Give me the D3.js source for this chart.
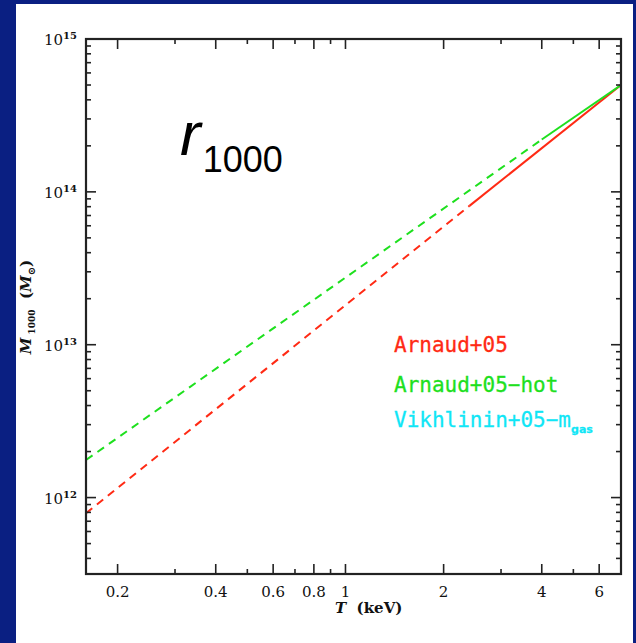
<!DOCTYPE html>
<html lang="en">
<head>
<meta charset="utf-8">
<title>M1000 - T</title>
<script src="https://d3js.org/d3.v7.min.js"></script>
<style>
  html, body { margin: 0; padding: 0; background: #0a1f82; }
  svg { display: block; }
</style>
</head>
<body>
<div id="chart"></div>
<script>
// series: [T (keV), M (Msun)] break points; first segment dashed, second solid
var arnaudT = [0.16, 2.4, 7];
var arnaudM = [7.9e11, 8.1e13, 5.0e14];
var hotT = [0.16, 4, 7];
var hotM = [1.76e12, 2.2e14, 5.0e14];

var xMajor = [0.2, 0.4, 0.6, 0.8, 1, 2, 4, 6];
var xMinor = [0.3, 0.5, 0.7, 0.9, 3, 5, 7];
var yMajor = [12, 13, 14, 15];   // exponents

var legendNames = ["Arnaud+05", "Arnaud+05\u2212hot", "Vikhlinin+05\u2212m"];
var legendColors = ["#ff2a14", "#1ee01e", "#10e6f6"];

var W = 636, H = 643;
var pL = 86, pR = 621, pT = 39, pB = 574;

var svg = d3.select("#chart").append("svg")
  .attr("width", W).attr("height", H);

// white panel
svg.append("rect").attr("x", 16).attr("y", 4)
  .attr("width", 617).attr("height", H - 4).attr("fill", "#fff");

var x = d3.scaleLog().domain([0.16, 7]).range([pL, pR]);
var y = d3.scaleLog().domain([Math.pow(10, 11.5), 1e15]).range([pB, pT]);

var line = d3.line()
  .x(function(d) { return x(d[0]); })
  .y(function(d) { return y(d[1]); });

svg.append("clipPath").attr("id", "clip")
  .append("rect").attr("x", pL).attr("y", pT)
  .attr("width", pR - pL).attr("height", pB - pT);

var series = [
  { t: arnaudT, m: arnaudM, color: legendColors[0] },
  { t: hotT, m: hotM, color: legendColors[1] }
];
var g = svg.append("g").attr("clip-path", "url(#clip)");
series.forEach(function(s) {
  var pts = s.t.map(function(t, i) { return [t, s.m[i]]; });
  g.append("path").attr("d", line(pts.slice(0, 2)))
    .attr("fill", "none").attr("stroke", s.color)
    .attr("stroke-width", 2).attr("stroke-dasharray", "8,6");
  g.append("path").attr("d", line(pts.slice(1)))
    .attr("fill", "none").attr("stroke", s.color)
    .attr("stroke-width", 2);
});

// ticks, inward on all sides
var tk = svg.append("g").attr("stroke", "#222").attr("stroke-width", 1.6);
function xTick(v, len) {
  tk.append("line").attr("x1", x(v)).attr("x2", x(v))
    .attr("y1", pB).attr("y2", pB - len);
  tk.append("line").attr("x1", x(v)).attr("x2", x(v))
    .attr("y1", pT).attr("y2", pT + len);
}
function yTick(v, len) {
  tk.append("line").attr("y1", y(v)).attr("y2", y(v))
    .attr("x1", pL).attr("x2", pL + len);
  tk.append("line").attr("y1", y(v)).attr("y2", y(v))
    .attr("x1", pR).attr("x2", pR - len);
}
xMajor.forEach(function(v) { xTick(v, 10); });
xMinor.forEach(function(v) { xTick(v, 5); });
yMajor.forEach(function(e) { yTick(Math.pow(10, e), 10); });
[11, 12, 13, 14].forEach(function(e) {
  d3.range(2, 10).forEach(function(k) {
    var v = k * Math.pow(10, e);
    if (v >= y.domain()[0] && v <= 1e15) yTick(v, 5);
  });
});

// frame
svg.append("rect").attr("x", pL).attr("y", pT)
  .attr("width", pR - pL).attr("height", pB - pT)
  .attr("fill", "none").attr("stroke", "#222").attr("stroke-width", 2.2);

var serif = "'DejaVu Serif', 'Liberation Serif', serif";

// x tick labels
svg.selectAll("text.xl").data(xMajor).enter().append("text")
  .attr("class", "xl")
  .attr("x", function(d) { return x(d); })
  .attr("y", 597)
  .attr("text-anchor", "middle")
  .attr("font-family", serif).attr("font-size", 15)
  .attr("fill", "#111")
  .text(function(d) { return d; });

// y tick labels
var yl = svg.selectAll("text.yl").data(yMajor).enter().append("text")
  .attr("class", "yl")
  .attr("x", 77)
  .attr("y", function(d) { return y(Math.pow(10, d)) + 6; })
  .attr("text-anchor", "end")
  .attr("font-family", serif).attr("font-size", 15)
  .attr("fill", "#111");
yl.append("tspan").text("10");
yl.append("tspan").attr("dy", -6).attr("font-size", 10).attr("font-weight", "bold")
  .text(function(d) { return d; });

// axis titles
var xt = svg.append("text").attr("x", 335).attr("y", 613)
  .attr("font-family", serif).attr("font-size", 15).attr("font-weight", "bold")
  .attr("fill", "#111");
xt.append("tspan").attr("font-style", "italic").text("T");
xt.append("tspan").text("\u00a0 (keV)");

var yt = svg.append("text")
  .attr("transform", "translate(31,307) rotate(-90)")
  .attr("text-anchor", "middle")
  .attr("font-family", serif).attr("font-size", 15).attr("font-weight", "bold")
  .attr("fill", "#111");
yt.append("tspan").attr("font-style", "italic").text("M");
yt.append("tspan").attr("font-size", 9).attr("dy", 4).text(" 1000");
yt.append("tspan").attr("dy", -4).text("\u00a0 (");
yt.append("tspan").attr("font-style", "italic").text("M");
yt.append("tspan").attr("font-size", 10).attr("dy", 4).text("\u2299");
yt.append("tspan").attr("dy", -4).text(")");

// r_1000 label
var rl = svg.append("text").attr("x", 180).attr("y", 155)
  .attr("font-family", "'Liberation Sans', Arial, sans-serif").attr("fill", "#000");
rl.append("tspan").attr("font-style", "italic").attr("font-size", 62).text("r");
rl.append("tspan").attr("font-size", 36).attr("dy", 17).attr("dx", 2).text("1000");

// legend
var mono = "'DejaVu Sans Mono', 'Liberation Mono', monospace";
var lgY = [352, 392, 427];
legendNames.forEach(function(name, i) {
  var t = svg.append("text").attr("x", 394).attr("y", lgY[i])
    .attr("font-family", mono).attr("font-size", 21)
    .attr("stroke", legendColors[i]).attr("stroke-width", 0.3)
    .attr("fill", legendColors[i]).text(name);
  if (i === 2) {
    t.append("tspan").attr("font-size", 11).attr("font-weight", "bold")
      .attr("font-family", "'DejaVu Sans', sans-serif")
      .attr("dy", 6).text("gas");
  }
});
</script>
</body>
</html>
